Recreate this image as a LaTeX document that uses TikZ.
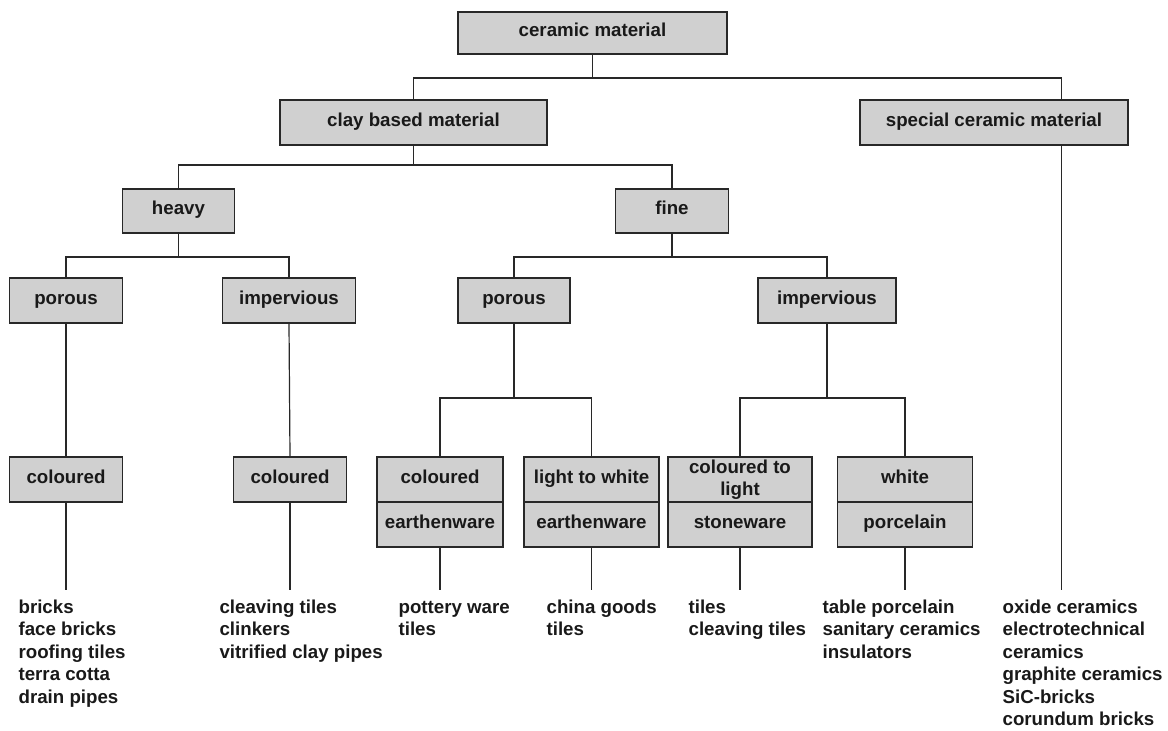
\documentclass[tikz,border=0pt]{standalone}
\usepackage{fontspec}
\setmainfont{Liberation Sans}
\usepackage{xcolor}
\usetikzlibrary{calc}

\definecolor{boxfill}{RGB}{208,208,208}
\definecolor{edge}{RGB}{40,40,40}

\begin{document}
\begin{tikzpicture}[x=1pt, y=-1pt, line width=1.2pt,
    every node/.style={font=\fontsize{18.7}{22.4}\selectfont\bfseries, text=black!90},
    cell/.style={draw=edge, fill=boxfill, inner sep=0pt, minimum height=45pt},
    box/.style={cell, text height=12.5pt, text depth=5pt},
    link/.style={draw=edge},
    list/.style={anchor=north west, align=left, inner sep=0pt}]
    \useasboundingbox (0,0) rectangle (1168,731);

    % top levels
    \node[box, minimum width=269pt, minimum height=42pt] (ceramic) at (592.5,33) {ceramic material};
    \node[box, minimum width=267pt] (clay) at (413.5,122.5) {clay based material};
    \node[box, minimum width=268pt] (special) at (994,122.5) {special ceramic material};
    \coordinate (spTop) at ($(special.north west)!.75!(special.north east)$);
    \coordinate (spBot) at ($(special.south west)!.75!(special.south east)$);

    \node[box, minimum width=112pt, minimum height=44pt] (heavy) at (178.5,211) {heavy};
    \node[box, minimum width=113pt, minimum height=44pt] (fine) at (672,211) {fine};

    \node[box, minimum width=113pt] (porousH) at (66,300.5) {porous};
    \node[box, minimum width=133pt] (impervH) at (289,300.5) {impervious};
    \node[box, minimum width=112pt] (porousF) at (514,300.5) {porous};
    \node[box, minimum width=138pt] (impervF) at (827,300.5) {impervious};

    \node[box, minimum width=113pt] (colH) at (66,479.5) {coloured};
    \node[box, minimum width=113pt] (colI) at (290,479.5) {coloured};

    % double boxes
    \node[box, minimum width=126pt] (earthA) at (440,479.5) {coloured};
    \node[box, minimum width=126pt] (earthAb) at (440,524.5) {earthenware};
    \node[box, minimum width=135pt] (earthB) at (591.5,479.5) {light to white};
    \node[box, minimum width=135pt] (earthBb) at (591.5,524.5) {earthenware};
    \node[cell, minimum width=144pt, align=center] (stone) at (740,479.5) {coloured to\\light};
    \node[box, minimum width=144pt] (stoneb) at (740,524.5) {stoneware};
    \node[box, minimum width=135pt] (porc) at (905,479.5) {white};
    \node[box, minimum width=135pt] (porcb) at (905,524.5) {porcelain};

    % products
    \node[list] (lsBricks) at (18,597.3) {\strut bricks\\face bricks\\roofing tiles\\terra cotta\\drain pipes};
    \node[list] (lsClink) at (219,597.3) {\strut cleaving tiles\\clinkers\\vitrified clay pipes};
    \node[list] (lsPot) at (398,597.3) {\strut pottery ware\\tiles};
    \node[list] (lsChina) at (546,597.3) {\strut china goods\\tiles};
    \node[list] (lsStone) at (688,597.3) {\strut tiles\\cleaving tiles};
    \node[list] (lsPorc) at (822,597.3) {\strut table porcelain\\sanitary ceramics\\insulators};
    \node[list] (lsSpec) at (1002,597.3) {\strut oxide ceramics\\electrotechnical\\ceramics\\graphite ceramics\\SiC-bricks\\corundum bricks};

    % connectors
    \draw[link] (ceramic.south) -- (ceramic.south |- 0,78);
    \draw[link] (clay.north) |- (spTop |- 0,78) -- (spTop);

    \draw[link] (clay.south) -- (clay.south |- 0,165);
    \draw[link] (heavy.north) |- (fine.north |- 0,165) -- (fine.north);

    \draw[link] (heavy.south) -- (heavy.south |- 0,257);
    \draw[link] (porousH.north) |- (impervH.north |- 0,257) -- (impervH.north);
    \draw[link] (fine.south) -- (fine.south |- 0,257);
    \draw[link] (porousF.north) |- (impervF.north |- 0,257) -- (impervF.north);

    \draw[link] (porousH.south) -- (colH.north);
    \draw[link] (impervH.south) -- (colI.north);

    \draw[link] (porousF.south) -- (porousF.south |- 0,398);
    \draw[link] (earthA.north) |- (earthB.north |- 0,398) -- (earthB.north);
    \draw[link] (impervF.south) -- (impervF.south |- 0,398);
    \draw[link] (stone.north) |- (porc.north |- 0,398) -- (porc.north);

    \draw[link] (colH.south) -- (colH.south |- 0,590);
    \draw[link] (colI.south) -- (colI.south |- 0,590);
    \draw[link] (earthAb.south) -- (earthAb.south |- 0,590);
    \draw[link] (earthBb.south) -- (earthBb.south |- 0,590);
    \draw[link] (stoneb.south) -- (stoneb.south |- 0,590);
    \draw[link] (porcb.south) -- (porcb.south |- 0,590);
    \draw[link] (spBot) -- (spBot |- 0,590);
\end{tikzpicture}
\end{document}
